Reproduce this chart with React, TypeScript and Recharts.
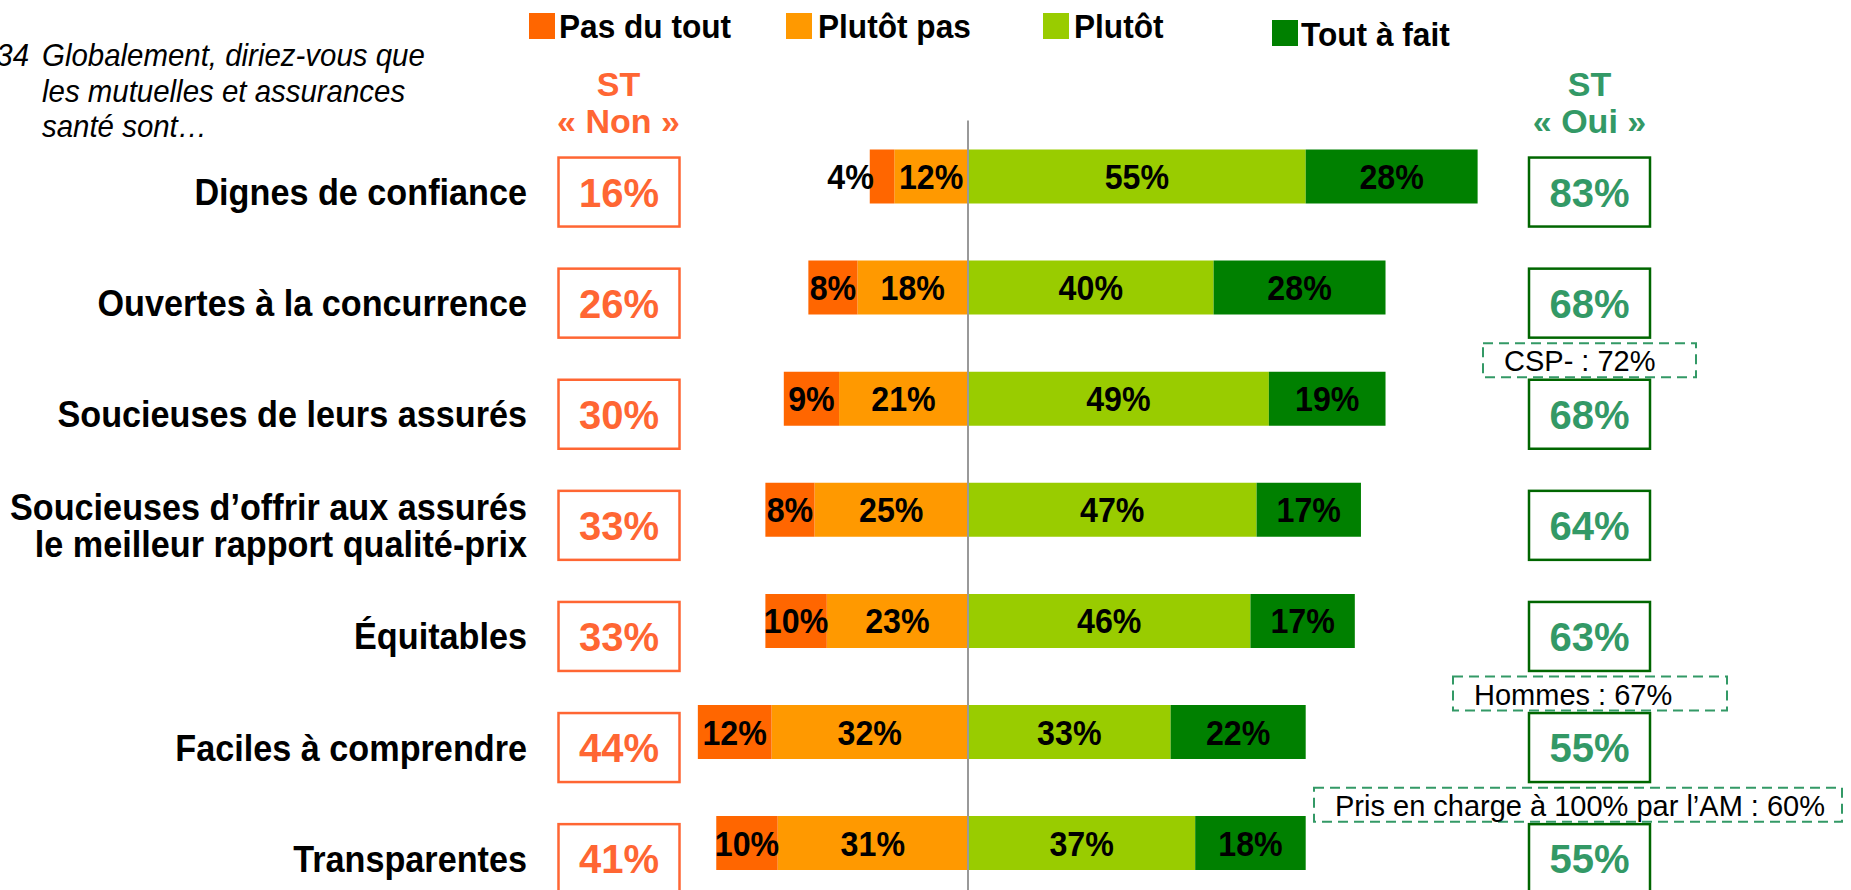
import React from 'react';
import { BarChart, Bar, XAxis, YAxis, ReferenceLine, LabelList } from 'recharts';

// ---------- DATA ----------
const categories = [
  'Dignes de confiance',
  'Ouvertes à la concurrence',
  'Soucieuses de leurs assurés',
  'Soucieuses d’offrir aux assurés\nle meilleur rapport qualité-prix',
  'Équitables',
  'Faciles à comprendre',
  'Transparentes',
];
const pasDuTout = [4, 8, 9, 8, 10, 12, 10];
const plutotPas = [12, 18, 21, 25, 23, 32, 31];
const plutot = [55, 40, 49, 47, 46, 33, 37];
const toutAFait = [28, 28, 19, 17, 17, 22, 18];
const stNon = [16, 26, 30, 33, 33, 44, 41];
const stOui = [83, 68, 68, 64, 63, 55, 55];
const seriesNames = ['Pas du tout', 'Plutôt pas', 'Plutôt', 'Tout à fait'];
const noteTexts = ['CSP- : 72%', 'Hommes : 67%', 'Pris en charge à 100% par l’AM : 60%'];
const noteRows = [2, 5, 6];
const questionLines = ['Globalement, diriez-vous que', 'les mutuelles et assurances', 'santé sont…'];
const questionNumber = 'Q34';

// ---------- STYLE / LAYOUT ----------
const FONT = '"Liberation Sans", Arial, Helvetica, sans-serif';
const C_PAS = '#FF6600';
const C_PLUTOT_PAS = '#FF9900';
const C_PLUTOT = '#99CC00';
const C_TOUT = '#008000';
const C_NON = '#FF6633';
const C_OUI = '#339966';
const C_OUI_BORDER = '#006600';
const seriesColors = [C_PAS, C_PLUTOT_PAS, C_PLUTOT, C_TOUT];

const W = 1851;
const H = 900;
const NARROW = 0.92;
const noteLayout = [
  { left: 1483, width: 213 },
  { left: 1453, width: 274 },
  { left: 1314, width: 528 },
];
const legendLayout = [
  { sx: 529, sy: 13, tx: 559, ty: 38 },
  { sx: 786, sy: 13, tx: 818, ty: 38 },
  { sx: 1043, sy: 13, tx: 1074, ty: 38 },
  { sx: 1272, sy: 20, tx: 1301, ty: 46 },
];

const data = categories.map((name, i) => ({
  name,
  pasDuTout: -pasDuTout[i],
  plutotPas: -plutotPas[i],
  plutot: plutot[i],
  toutAFait: toutAFait[i],
}));

const BarLabel = (props: any) => {
  const { x, y, width, height, value } = props;
  if (value == null) return null;
  const left = Math.min(Number(x), Number(x) + Number(width));
  const w = Math.abs(Number(width));
  const cy = Number(y) + Number(height) / 2;
  const outside = w < 30;
  const tx = outside ? left + 4 : left + w / 2;
  return (
    <text
      transform={`translate(${tx},${cy + 12.5}) scale(${NARROW},1)`}
      x={0}
      y={0}
      textAnchor={outside ? 'end' : 'middle'}
      fontSize={35}
      fontWeight="bold"
      fontFamily={FONT}
      fill="#000"
    >
      {`${Math.abs(Number(value))}%`}
    </text>
  );
};

const RowTick = (props: any) => {
  const { y, payload } = props;
  const idx = categories.indexOf(payload.value);
  if (idx < 0) return null;
  const cy = Number(y) + 16;
  const lines = String(payload.value).split('\n');
  const lineH = 36.5;
  const firstBase = cy + 13 - ((lines.length - 1) * lineH) / 2;
  const noteIdx = noteRows.indexOf(idx);
  return (
    <g>
      {lines.map((l, k) => (
        <text
          key={k}
          transform={`translate(527,${firstBase + k * lineH}) scale(0.95,1)`}
          textAnchor="end"
          fontSize={36}
          fontWeight="bold"
          fontFamily={FONT}
          fill="#000"
        >
          {l}
        </text>
      ))}
      <rect x={558.5} y={cy - 34.5} width={121} height={69} fill="#fff" stroke={C_NON} strokeWidth={2.5} />
      <text x={619} y={cy + 14.5} textAnchor="middle" fontSize={40} fontWeight="bold" fontFamily={FONT} fill={C_NON}>
        {`${stNon[idx]}%`}
      </text>
      <rect x={1529} y={cy - 34.5} width={121} height={69} fill="#fff" stroke={C_OUI_BORDER} strokeWidth={2.5} />
      <text x={1589.5} y={cy + 14.5} textAnchor="middle" fontSize={40} fontWeight="bold" fontFamily={FONT} fill={C_OUI}>
        {`${stOui[idx]}%`}
      </text>
      {noteIdx >= 0 && (
        <g>
          <rect
            x={noteLayout[noteIdx].left}
            y={Number(y) - 55}
            width={noteLayout[noteIdx].width}
            height={34}
            fill="#fff"
            stroke={C_OUI}
            strokeWidth={2}
            strokeDasharray="10 6"
          />
          <text
            x={noteLayout[noteIdx].left + 21}
            y={Number(y) - 27}
            fontSize={29}
            fontFamily={FONT}
            fill="#000"
          >
            {noteTexts[noteIdx]}
          </text>
        </g>
      )}
    </g>
  );
};

export default function App() {
  return (
    <div style={{ position: 'absolute', left: 0, top: 0, width: W, height: 890, overflow: 'hidden', background: '#fff' }}>
      <BarChart
        width={W}
        height={H}
        data={data}
        layout="vertical"
        stackOffset="sign"
        margin={{ top: 120.5, right: 269, bottom: 1.8, left: 0 }}
      >
        <XAxis type="number" domain={[-50, 100]} hide allowDataOverflow />
        <YAxis
          type="category"
          dataKey="name"
          width={661}
          axisLine={false}
          tickLine={false}
          interval={0}
          tick={(p: any) => <RowTick {...p} />}
        />
        <Bar dataKey="plutotPas" stackId="a" fill={C_PLUTOT_PAS} barSize={54} isAnimationActive={false}>
          <LabelList dataKey="plutotPas" content={BarLabel} />
        </Bar>
        <Bar dataKey="pasDuTout" stackId="a" fill={C_PAS} barSize={54} isAnimationActive={false}>
          <LabelList dataKey="pasDuTout" content={BarLabel} />
        </Bar>
        <Bar dataKey="plutot" stackId="a" fill={C_PLUTOT} barSize={54} isAnimationActive={false}>
          <LabelList dataKey="plutot" content={BarLabel} />
        </Bar>
        <Bar dataKey="toutAFait" stackId="a" fill={C_TOUT} barSize={54} isAnimationActive={false}>
          <LabelList dataKey="toutAFait" content={BarLabel} />
        </Bar>
        <ReferenceLine x={0} stroke="#999999" strokeWidth={2} ifOverflow="extendDomain" />
      </BarChart>
      <svg
        width={W}
        height={890}
        style={{ position: 'absolute', left: 0, top: 0, pointerEvents: 'none' }}
      >
        <text
          transform={`translate(29,66) scale(${NARROW},1)`}
          textAnchor="end"
          fontSize={32}
          fontStyle="italic"
          fontFamily={FONT}
          fill="#000"
        >
          {questionNumber}
        </text>
        {questionLines.map((l, k) => (
          <text
            key={k}
            transform={`translate(42,${66 + k * 35.5}) scale(${NARROW},1)`}
            fontSize={32}
            fontStyle="italic"
            fontFamily={FONT}
            fill="#000"
          >
            {l}
          </text>
        ))}
        <text x={618.5} y={96} textAnchor="middle" fontSize={34} fontWeight="bold" fontFamily={FONT} fill={C_NON}>ST</text>
        <text x={618.5} y={133} textAnchor="middle" fontSize={34} fontWeight="bold" fontFamily={FONT} fill={C_NON}>« Non »</text>
        <text x={1589.5} y={96} textAnchor="middle" fontSize={34} fontWeight="bold" fontFamily={FONT} fill={C_OUI}>ST</text>
        <text x={1589.5} y={133} textAnchor="middle" fontSize={34} fontWeight="bold" fontFamily={FONT} fill={C_OUI}>« Oui »</text>
        {seriesNames.map((n, k) => (
          <g key={n}>
            <rect x={legendLayout[k].sx} y={legendLayout[k].sy} width={26} height={26} fill={seriesColors[k]} />
            <text
              transform={`translate(${legendLayout[k].tx},${legendLayout[k].ty}) scale(0.93,1)`}
              fontSize={34}
              fontWeight="bold"
              fontFamily={FONT}
              fill="#000"
            >
              {n}
            </text>
          </g>
        ))}
      </svg>
    </div>
  );
}
